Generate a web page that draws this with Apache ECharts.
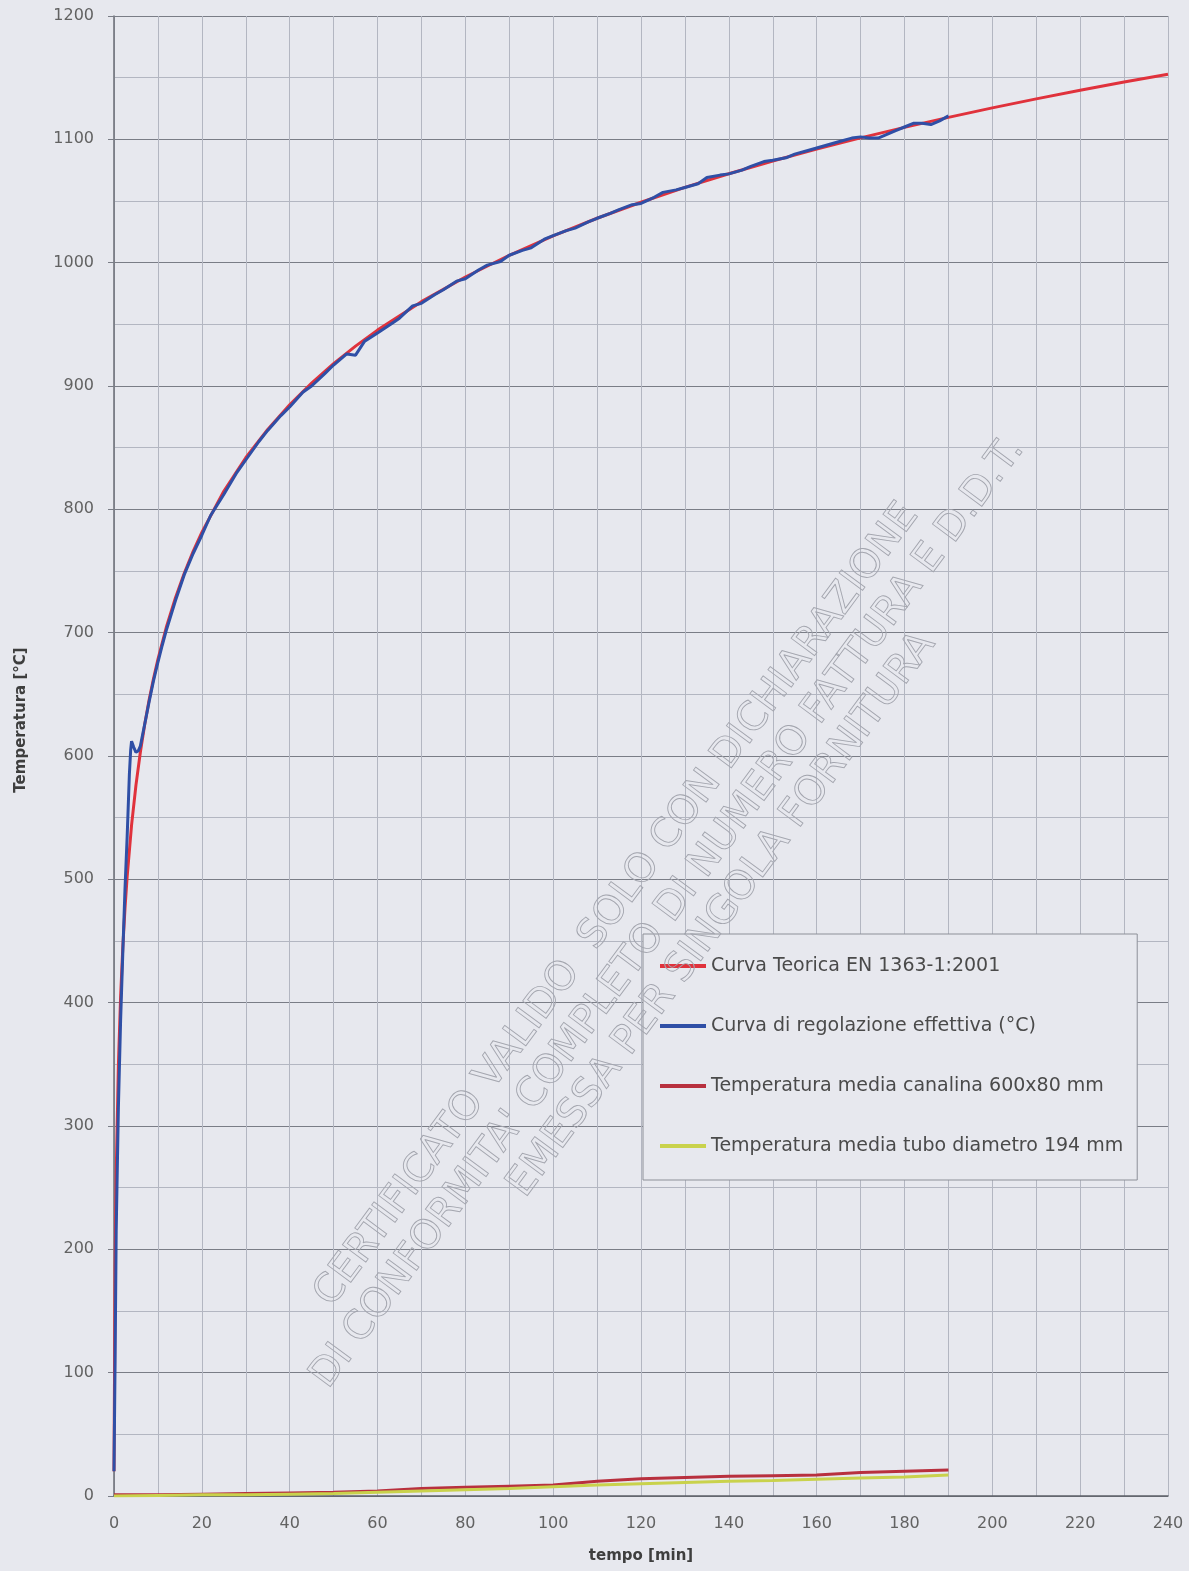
<!DOCTYPE html>
<html>
<head>
<meta charset="utf-8">
<title>Curva temperatura - tempo</title>
<script src="https://cdn.jsdelivr.net/npm/echarts@6/dist/echarts.min.js"></script>
<style>
  html, body { margin: 0; padding: 0; background: #e7e8ee; }
  #chart { width: 1189px; height: 1571px; }
</style>
</head>
<body>
<div id="chart"></div>
<script>
// Curva teorica EN 1363-1:2001 (tempo in minuti, temperatura in °C)
const teoricaTempo = [0, 0.25, 0.5, 1, 1.5, 2, 2.5, 3, 4, 5, 6, 7, 8, 9, 10, 12, 14, 16, 18, 20, 25, 30, 35, 40, 45, 50, 55, 60, 70, 80, 90, 100, 110, 120, 130, 140, 150, 160, 170, 180, 190, 200, 210, 220, 230, 240];
const teoricaTemp = [20, 184.6, 261.1, 349.2, 404.3, 444.5, 476.2, 502.3, 543.9, 576.4, 603.1, 625.8, 645.5, 662.8, 678.4, 705.4, 728.3, 748.2, 765.7, 781.3, 814.6, 841.8, 864.8, 884.7, 902.3, 918.1, 932.3, 945.3, 968.4, 988.4, 1006.0, 1021.7, 1036.0, 1049.0, 1061.0, 1072.1, 1082.4, 1092.1, 1101.2, 1109.7, 1117.8, 1125.5, 1132.8, 1139.8, 1146.5, 1152.8];

// Curva di regolazione effettiva del forno
const effTempo = [0, 0.25, 0.5, 1, 1.5, 2, 2.5, 3, 3.5, 3.8, 4, 4.5, 5, 5.5, 6, 7, 8, 9, 10, 11, 12, 14, 16, 18, 20, 22, 25, 28, 30, 33, 35, 38, 40, 43, 45, 48, 50, 53, 55, 57, 60, 63, 65, 68, 70, 73, 75, 78, 80, 83, 85, 88, 90, 93, 95, 98, 100, 103, 105, 108, 110, 113, 115, 118, 120, 123, 125, 128, 130, 133, 135, 138, 140, 143, 145, 148, 150, 153, 155, 158, 160, 163, 165, 168, 170, 172, 174, 176, 178, 180, 182, 184, 186, 188, 190];
const effTemp = [20, 110, 215, 315, 385, 440, 492, 535, 585, 605, 612, 607, 603, 604, 608, 626, 644, 661, 676, 690, 703, 726, 747, 764, 779, 795, 812, 830, 840, 855, 864, 876, 883, 895, 900, 910, 917, 926, 925, 936, 943, 950, 955, 965, 967, 974, 978, 985, 987, 994, 998, 1001, 1006, 1010, 1012, 1019, 1022, 1026, 1028, 1033, 1036, 1040, 1043, 1047, 1048, 1053, 1057, 1059, 1061, 1064, 1069, 1071, 1072, 1075, 1078, 1082, 1083, 1085, 1088, 1091, 1093, 1096, 1098, 1101, 1102, 1101, 1101, 1104, 1107, 1110, 1113, 1113, 1112, 1115, 1119];

// Temperatura media canalina 600x80 mm
const canalinaTempo = [0, 10, 20, 30, 40, 50, 60, 70, 80, 90, 100, 110, 120, 130, 140, 150, 160, 170, 180, 190];
const canalinaTemp = [1, 1, 1.5, 2, 2.5, 3, 4, 6, 7, 8, 9, 12, 14, 15, 16, 16.5, 17, 19, 20, 21];

// Temperatura media tubo diametro 194 mm
const tuboTempo = [0, 10, 20, 30, 40, 50, 60, 70, 80, 90, 100, 110, 120, 130, 140, 150, 160, 170, 180, 190];
const tuboTemp = [0, 0.5, 1, 1, 1.5, 2, 3, 4, 5, 6, 7.5, 9, 10, 11, 12, 12.5, 13.5, 14.5, 15.5, 17];

const xTicks = { min: 0, max: 240, step: 20 };
const yTicks = { min: 0, max: 1200, step: 100 };

const seriesNames = [
  'Curva Teorica EN 1363-1:2001',
  'Curva di regolazione effettiva (°C)',
  'Temperatura media canalina 600x80 mm',
  'Temperatura media tubo diametro 194 mm'
];

const watermarkLines = [
  'CERTIFICATO VALIDO  SOLO CON DICHIARAZIONE',
  "DI CONFORMITA' COMPLETO DI NUMERO FATTURA E D.D.T.",
  'EMESSA PER SINGOLA FORNITURA'
];

function pairs(xs, ys) { return xs.map((x, i) => [x, ys[i]]); }

const FONT = '"DejaVu Sans", sans-serif';
const chart = echarts.init(document.getElementById('chart'), null, { renderer: 'canvas' });

const wmAngle = 53.5 * Math.PI / 180;
const wmCenters = [[617, 905], [668, 913], [722, 915]];

const option = {
  backgroundColor: '#e7e8ee',
  animation: false,
  grid: { left: 114, right: 21, top: 16, bottom: 75, containLabel: false },
  xAxis: {
    type: 'value',
    min: xTicks.min, max: xTicks.max, interval: xTicks.step,
    axisLine: { show: true, onZero: false, lineStyle: { color: '#5e6068', width: 1.5 } },
    axisTick: { show: false },
    axisLabel: { margin: 20, fontFamily: FONT, fontSize: 16, color: '#626262', formatter: v => String(v) },
    splitLine: { show: true, lineStyle: { color: '#b3b6c1', width: 1 } },
    minorTick: { show: false, splitNumber: 2 },
    minorSplitLine: { show: true, lineStyle: { color: '#b3b6c1', width: 1 } }
  },
  yAxis: {
    type: 'value',
    min: yTicks.min, max: yTicks.max, interval: yTicks.step,
    axisLine: { show: true, onZero: false, lineStyle: { color: '#6a6c74', width: 1.5 } },
    axisTick: { show: true, inside: false, length: 6, lineStyle: { color: '#7a7d86' } },
    axisLabel: { margin: 20, fontFamily: FONT, fontSize: 16, color: '#626262', formatter: v => String(v) },
    splitLine: { show: true, lineStyle: { color: '#7a7d86', width: 1.2 } },
    minorTick: { show: false, splitNumber: 2 },
    minorSplitLine: { show: true, lineStyle: { color: '#b3b6c1', width: 1 } }
  },
  legend: {
    orient: 'vertical',
    left: 643, top: 934,
    padding: [22, 14, 24, 17],
    itemGap: 40,
    itemWidth: 46, itemHeight: 4,
    icon: 'rect',
    backgroundColor: '#e7e8ee',
    borderColor: '#8d9098', borderWidth: 1,
    textStyle: { fontFamily: FONT, fontSize: 19, color: '#4a4a4a', lineHeight: 20 },
    data: seriesNames
  },
  graphic: watermarkLines.map((txt, i) => ({
    type: 'text',
    x: wmCenters[i][0], y: wmCenters[i][1],
    rotation: wmAngle,
    silent: true,
    z: 10,
    style: {
      text: txt,
      font: '40px ' + FONT,
      fill: 'transparent',
      stroke: '#a3a5ae',
      lineWidth: 0.9,
      textAlign: 'center',
      textVerticalAlign: 'middle'
    }
  })).concat([
    {
      type: 'text', x: 641, y: 1556, silent: true,
      style: { text: 'tempo [min]', font: 'bold 15px ' + FONT, fill: '#3e3e3e', textAlign: 'center', textVerticalAlign: 'middle' }
    },
    {
      type: 'text', x: 21, y: 720, rotation: Math.PI / 2, silent: true,
      style: { text: 'Temperatura [°C]', font: 'bold 15px ' + FONT, fill: '#3e3e3e', textAlign: 'center', textVerticalAlign: 'middle' }
    }
  ]),
  series: [
    {
      name: seriesNames[0], type: 'line', showSymbol: false, z: 2,
      data: pairs(teoricaTempo, teoricaTemp),
      lineStyle: { color: '#e0323c', width: 3 }, itemStyle: { color: '#e0323c' }
    },
    {
      name: seriesNames[1], type: 'line', showSymbol: false, z: 3,
      data: pairs(effTempo, effTemp),
      lineStyle: { color: '#2f4fa6', width: 3 }, itemStyle: { color: '#2f4fa6' }
    },
    {
      name: seriesNames[2], type: 'line', showSymbol: false, z: 3,
      data: pairs(canalinaTempo, canalinaTemp),
      lineStyle: { color: '#b8303e', width: 3 }, itemStyle: { color: '#b8303e' }
    },
    {
      name: seriesNames[3], type: 'line', showSymbol: false, z: 4,
      data: pairs(tuboTempo, tuboTemp),
      lineStyle: { color: '#c9d24c', width: 3 }, itemStyle: { color: '#c9d24c' }
    }
  ]
};

chart.setOption(option);
</script>
</body>
</html>
